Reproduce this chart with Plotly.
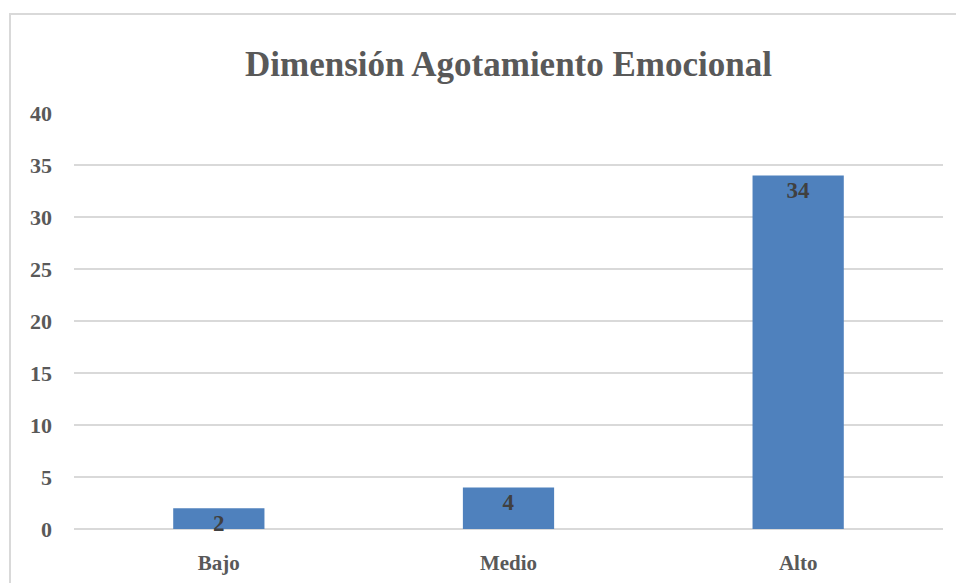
import plotly.graph_objects as go

categories = ["Bajo", "Medio", "Alto"]
values = [2, 4, 34]
y_ticks = [0, 5, 10, 15, 20, 25, 30, 35, 40]
title_text = "Dimensión Agotamiento Emocional"

W, H = 956, 583
ml, mr, mt, mb = 74, 13, 113, 54
pw, ph = W - ml - mr, H - mt - mb

FONT = "Liberation Serif"

fig = go.Figure(go.Bar(
    x=categories, y=values,
    marker=dict(color="#4F81BD", line=dict(width=0)),
    width=0.315,
    text=[str(v) for v in values],
    textposition="inside",
    insidetextanchor="end",
    constraintext="none",
    textangle=0,
    textfont=dict(family=FONT, size=23, color="#404040", weight="bold"),
    cliponaxis=False,
))

fig.update_layout(
    width=W, height=H,
    margin=dict(l=ml, r=mr, t=mt, b=mb, autoexpand=False),
    paper_bgcolor="white", plot_bgcolor="white",
    showlegend=False,
    title=dict(text=title_text, x=0.5, xref="paper", xanchor="center",
               y=1 - 64 / H, yanchor="middle",
               font=dict(family=FONT, size=35, color="#595959", weight="bold")),
    xaxis=dict(showgrid=False, showline=False, ticks="", ticklabelstandoff=19,
               automargin=False,
               tickfont=dict(family=FONT, size=21, color="#595959", weight="bold")),
    yaxis=dict(range=[0, 40], tickvals=y_ticks, showgrid=True, gridcolor="#D9D9D9",
               gridwidth=2, zeroline=True, zerolinecolor="#D9D9D9", zerolinewidth=2,
               showline=False, ticks="", ticklabelstandoff=21, automargin=False,
               tickfont=dict(family=FONT, size=22, color="#595959", weight="bold")),
    shapes=[dict(type="rect", xref="paper", yref="paper",
                 x0=(10 - ml) / pw, x1=(W + 20 - ml) / pw,
                 y0=-(mb + 20) / ph, y1=1 + (mt - 14) / ph,
                 line=dict(color="#D9D9D9", width=2), fillcolor="rgba(0,0,0,0)",
                 layer="below")],
)

fig.write_html("out.html")
